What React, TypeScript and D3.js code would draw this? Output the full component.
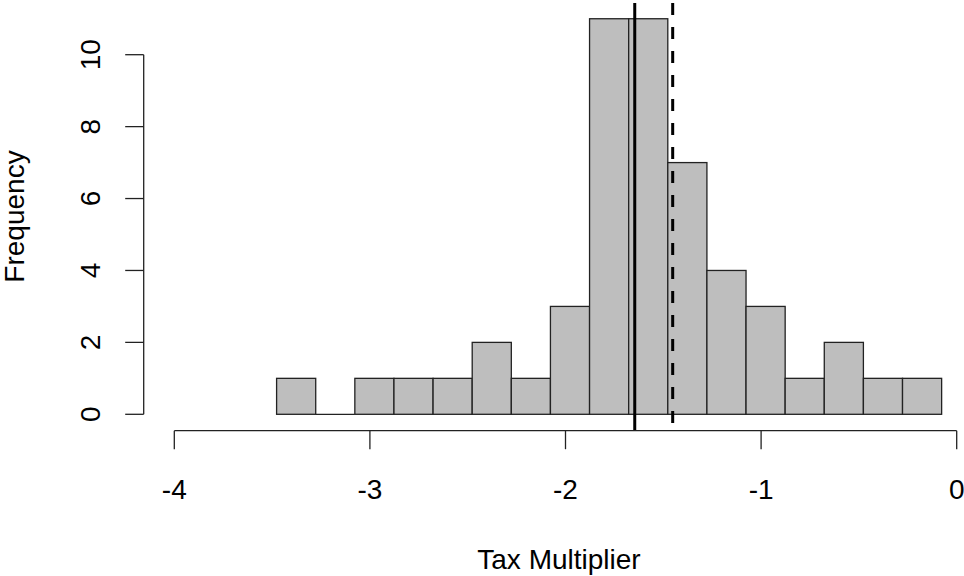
import * as d3 from 'd3';

// histogram of tax multipliers
const breaks = [
  -3.477, -3.277, -3.077, -2.877, -2.677, -2.477, -2.277, -2.077, -1.877,
  -1.677, -1.477, -1.277, -1.077, -0.877, -0.677, -0.477, -0.277, -0.077,
];
const counts = [1, 0, 1, 1, 1, 2, 1, 3, 11, 11, 7, 4, 3, 1, 2, 1, 1];
const xTicks = [-4, -3, -2, -1, 0];
const yTicks = [0, 2, 4, 6, 8, 10];
const medianValue = -1.646;
const meanValue = -1.452;

const W = 964;
const H = 576;
const FONT = '"Liberation Sans", Arial, Helvetica, sans-serif';
const FS = 28;

const App = () => {
  const x = d3.scaleLinear().domain([-4, 0]).range([174.3, 956.7]);
  const y = d3.scaleLinear().domain([0, 10]).range([414.3, 54.7]);
  const plotTop = y(11.44);
  const plotBottom = y(-0.44);
  const axisY = 430.7;
  const axisX = 143.7;
  const tick = 18.5;

  const bins = counts.map((c, i) => ({ x0: breaks[i], x1: breaks[i + 1], c }));

  return (
    <svg
      width={W}
      height={H}
      style={{ position: 'absolute', left: 0, top: 0, background: '#fff' }}
      fontFamily={FONT}
    >
      {bins.map((b, i) =>
        b.c > 0 ? (
          <rect
            key={i}
            x={x(b.x0)}
            y={y(b.c)}
            width={x(b.x1) - x(b.x0)}
            height={y(0) - y(b.c)}
            fill="#bebebe"
            stroke="#222"
            strokeWidth={1.3}
          />
        ) : (
          // empty bin still leaves its base line
          <line
            key={i}
            x1={x(b.x0)}
            x2={x(b.x1)}
            y1={y(0)}
            y2={y(0)}
            stroke="#222"
            strokeWidth={1.3}
          />
        )
      )}

      {/* x axis */}
      <line x1={x(-4)} x2={x(0)} y1={axisY} y2={axisY} stroke="#222" strokeWidth={1.3} />
      {xTicks.map((t) => (
        <g key={t}>
          <line x1={x(t)} x2={x(t)} y1={axisY} y2={axisY + tick} stroke="#222" strokeWidth={1.3} />
          <text x={x(t)} y={499} textAnchor="middle" fontSize={FS}>
            {t}
          </text>
        </g>
      ))}

      {/* y axis */}
      <line x1={axisX} x2={axisX} y1={y(0)} y2={y(10)} stroke="#222" strokeWidth={1.3} />
      {yTicks.map((t) => (
        <g key={t}>
          <line x1={axisX - tick} x2={axisX} y1={y(t)} y2={y(t)} stroke="#222" strokeWidth={1.3} />
          <text
            transform={`translate(100,${y(t)}) rotate(-90)`}
            textAnchor="middle"
            fontSize={FS}
          >
            {t}
          </text>
        </g>
      ))}

      {/* median and mean */}
      <line
        x1={x(medianValue)}
        x2={x(medianValue)}
        y1={plotTop}
        y2={plotBottom}
        stroke="#000"
        strokeWidth={3}
      />
      <line
        x1={x(meanValue)}
        x2={x(meanValue)}
        y1={plotTop}
        y2={plotBottom}
        stroke="#000"
        strokeWidth={3}
        strokeDasharray="12,12"
      />

      <text x={559} y={569} textAnchor="middle" fontSize={FS}>
        Tax Multiplier
      </text>
      <text
        transform={`translate(24,${(plotTop + plotBottom) / 2}) rotate(-90)`}
        textAnchor="middle"
        fontSize={FS}
      >
        Frequency
      </text>
    </svg>
  );
};

export default App;
